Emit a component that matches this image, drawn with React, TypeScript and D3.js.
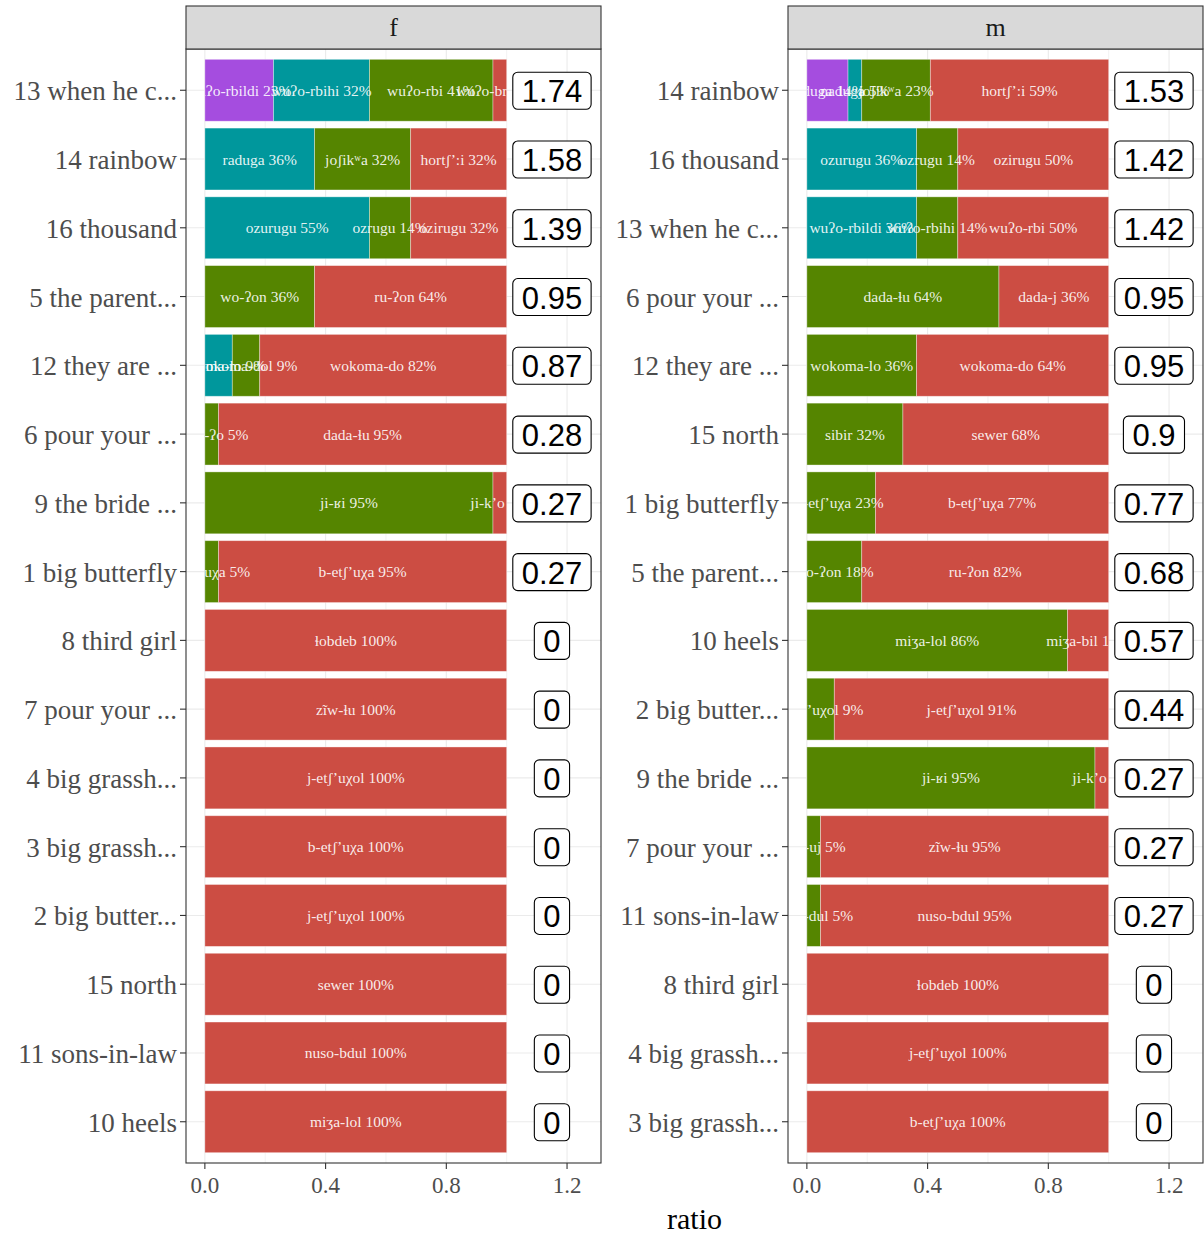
import React from 'react';
import * as d3 from 'd3';

// rows listed top to bottom, one entry per row
const fRows = ['13 when he c...', '14 rainbow', '16 thousand', '5 the parent...', '12 they are ...', '6 pour your ...', '9 the bride ...', '1 big butterfly', '8 third girl', '7 pour your ...', '4 big grassh...', '3 big grassh...', '2 big butter...', '15 north', '11 sons-in-law', '10 heels'];
const fScores = [1.74, 1.58, 1.39, 0.95, 0.87, 0.28, 0.27, 0.27, 0, 0, 0, 0, 0, 0, 0, 0];
const fForms = [
  ['wuʔo-rbildi', 'wuʔo-rbihi', 'wuʔo-rbi', 'wuʔo-brbi'],
  ['raduga', 'joʃikʷa', 'hortʃʼ:i'],
  ['ozurugu', 'ozrugu', 'ozirugu'],
  ['wo-ʔon', 'ru-ʔon'],
  ['wokoma-lo', 'wokoma-dol', 'wokoma-do'],
  ['dada-ʔo', 'dada-ɬu'],
  ['ji-ʁi', 'ji-kʼo'],
  ['j-etʃʼuχa', 'b-etʃʼuχa'],
  ['ɬobdeb'],
  ['zĩw-ɬu'],
  ['j-etʃʼuχol'],
  ['b-etʃʼuχa'],
  ['j-etʃʼuχol'],
  ['sewer'],
  ['nuso-bdul'],
  ['miʒa-lol'],
];
const fShares = [
  [0.2273, 0.3182, 0.4091, 0.0454],
  [0.3636, 0.3182, 0.3182],
  [0.5455, 0.1364, 0.3181],
  [0.3636, 0.6364],
  [0.0909, 0.0909, 0.8182],
  [0.0454, 0.9546],
  [0.9546, 0.0454],
  [0.0454, 0.9546],
  [1], [1], [1], [1], [1], [1], [1], [1],
];

const mRows = ['14 rainbow', '16 thousand', '13 when he c...', '6 pour your ...', '12 they are ...', '15 north', '1 big butterfly', '5 the parent...', '10 heels', '2 big butter...', '9 the bride ...', '7 pour your ...', '11 sons-in-law', '8 third girl', '4 big grassh...', '3 big grassh...'];
const mScores = [1.53, 1.42, 1.42, 0.95, 0.95, 0.9, 0.77, 0.68, 0.57, 0.44, 0.27, 0.27, 0.27, 0, 0, 0];
const mForms = [
  ['raduga', 'naduga', 'joʃikʷa', 'hortʃʼ:i'],
  ['ozurugu', 'ozrugu', 'ozirugu'],
  ['wuʔo-rbildi', 'wuʔo-rbihi', 'wuʔo-rbi'],
  ['dada-ɬu', 'dada-j'],
  ['wokoma-lo', 'wokoma-do'],
  ['sibir', 'sewer'],
  ['j-etʃʼuχa', 'b-etʃʼuχa'],
  ['wo-ʔon', 'ru-ʔon'],
  ['miʒa-lol', 'miʒa-bil'],
  ['b-etʃʼuχol', 'j-etʃʼuχol'],
  ['ji-ʁi', 'ji-kʼo'],
  ['zĩw-uj', 'zĩw-ɬu'],
  ['nuso-dul', 'nuso-bdul'],
  ['ɬobdeb'],
  ['j-etʃʼuχol'],
  ['b-etʃʼuχa'],
];
const mShares = [
  [0.1364, 0.0454, 0.2273, 0.5909],
  [0.3636, 0.1364, 0.5],
  [0.3636, 0.1364, 0.5],
  [0.6364, 0.3636],
  [0.3636, 0.6364],
  [0.3182, 0.6818],
  [0.2273, 0.7727],
  [0.1818, 0.8182],
  [0.8636, 0.1364],
  [0.0909, 0.9091],
  [0.9546, 0.0454],
  [0.0454, 0.9546],
  [0.0454, 0.9546],
  [1], [1], [1],
];

const xTicks = [0, 0.4, 0.8, 1.2];
const xMinor = [0.2, 0.6, 1.0];

// colour by position counted from the right end of the bar
const fillFromEnd = ['#cc4d43', '#558500', '#00979c', '#a54ddf'];

const serif = '"Liberation Serif", "DejaVu Serif", serif';
const sans = '"Liberation Sans", Arial, sans-serif';

const panelTop = 49;
const panelBottom = 1163;

interface PanelProps {
  id: string;
  title: string;
  left: number;
  right: number;
  rows: string[];
  scores: number[];
  forms: string[][];
  shares: number[][];
}

const Panel: React.FC<PanelProps> = ({ id, title, left, right, rows, scores, forms, shares }) => {
  const x = d3.scaleLinear().domain([-0.0625, 1.3125]).range([left, right]);
  const y = d3.scalePoint<string>().domain(rows.map((r, i) => `${i}`)).range([panelTop, panelBottom]).padding(0.6);
  const barH = y.step() * 0.9;
  const fs = 31;
  const pad = 9;
  const textW = (s: string) => {
    let w = 0;
    for (const c of s) w += c === '.' ? 0.278 : 0.556;
    return w * fs;
  };

  return (
    <g>
      <defs>
        <clipPath id={`clip-${id}`}>
          <rect x={x(0)} y={panelTop} width={x(1) - x(0)} height={panelBottom - panelTop} />
        </clipPath>
      </defs>
      {/* grid */}
      {xMinor.map(t => (
        <line key={`mi${t}`} x1={x(t)} x2={x(t)} y1={panelTop} y2={panelBottom} stroke="#ebebeb" strokeWidth={0.6} />
      ))}
      {xTicks.map(t => (
        <line key={`ma${t}`} x1={x(t)} x2={x(t)} y1={panelTop} y2={panelBottom} stroke="#ebebeb" strokeWidth={1.1} />
      ))}
      {rows.map((r, i) => (
        <line key={`gy${i}`} x1={left} x2={right} y1={y(`${i}`)!} y2={y(`${i}`)!} stroke="#ebebeb" strokeWidth={1.1} />
      ))}
      {/* bars */}
      {rows.map((r, i) => {
        const cy = y(`${i}`)!;
        const n = shares[i].length;
        const cum = d3.cumsum(shares[i]);
        return (
          <g key={`bar${i}`}>
            {shares[i].map((s, j) => {
              const x0 = j === 0 ? 0 : cum[j - 1];
              return (
                <rect key={j} x={x(x0)} y={cy - barH / 2} width={x(x0 + s) - x(x0)} height={barH}
                  fill={fillFromEnd[n - 1 - j]} stroke="#ffffff" strokeOpacity={0.45} strokeWidth={0.8} />
              );
            })}
          </g>
        );
      })}
      {/* segment labels */}
      <g clipPath={`url(#clip-${id})`}>
        {rows.map((r, i) => {
          const cy = y(`${i}`)!;
          const cum = d3.cumsum(shares[i]);
          return shares[i].map((s, j) => {
            const x0 = j === 0 ? 0 : cum[j - 1];
            return (
              <text key={`${i}-${j}`} x={x(x0 + s / 2)} y={cy + 5.5} textAnchor="middle" fontFamily={serif}
                fontSize={15.5} fill="#ffffff" fillOpacity={0.9}>
                {`${forms[i][j]} ${Math.round(s * 100)}%`}
              </text>
            );
          });
        })}
      </g>
      {/* score labels */}
      {rows.map((r, i) => {
        const cy = y(`${i}`)!;
        const label = `${scores[i]}`;
        const w = textW(label) + pad * 2;
        const cx = x(1.15);
        return (
          <g key={`sc${i}`}>
            <rect x={cx - w / 2} y={cy - 18} width={w} height={37} rx={5} fill="#ffffff" stroke="#000000" strokeWidth={1.1} />
            <text x={cx} y={cy + 12} textAnchor="middle" fontFamily={sans} fontSize={fs} fill="#000000">{label}</text>
          </g>
        );
      })}
      {/* panel border */}
      <rect x={left} y={panelTop} width={right - left} height={panelBottom - panelTop} fill="none" stroke="#333333" strokeWidth={1.1} />
      {/* strip */}
      <rect x={left} y={6} width={right - left} height={panelTop - 6} fill="#d9d9d9" stroke="#333333" strokeWidth={1.1} />
      <text x={(left + right) / 2} y={36} textAnchor="middle" fontFamily={serif} fontSize={26} fill="#1a1a1a">{title}</text>
      {/* y axis */}
      {rows.map((r, i) => {
        const cy = y(`${i}`)!;
        return (
          <g key={`ya${i}`}>
            <line x1={left - 6} x2={left} y1={cy} y2={cy} stroke="#333333" strokeWidth={1.1} />
            <text x={left - 9} y={cy + 10} textAnchor="end" fontFamily={serif} fontSize={27} fill="#4d4d4d">{r}</text>
          </g>
        );
      })}
      {/* x axis */}
      {xTicks.map(t => (
        <g key={`xa${t}`}>
          <line x1={x(t)} x2={x(t)} y1={panelBottom} y2={panelBottom + 6} stroke="#333333" strokeWidth={1.1} />
          <text x={x(t)} y={panelBottom + 30} textAnchor="middle" fontFamily={serif} fontSize={23} fill="#4d4d4d">{d3.format('.1f')(t)}</text>
        </g>
      ))}
    </g>
  );
};

const App: React.FC = () => {
  const width = 1204;
  const height = 1236;
  return (
    <div style={{ position: 'absolute', left: 0, top: 0 }}>
      <svg width={width} height={height} style={{ display: 'block', background: '#ffffff' }}>
        <rect width={width} height={height} fill="#ffffff" />
        <Panel id="f" title="f" left={186} right={601} rows={fRows} scores={fScores} forms={fForms} shares={fShares} />
        <Panel id="m" title="m" left={788} right={1203} rows={mRows} scores={mScores} forms={mForms} shares={mShares} />
        <text x={694.5} y={1229} textAnchor="middle" fontFamily={serif} fontSize={30} fill="#000000">ratio</text>
      </svg>
    </div>
  );
};

export default App;
